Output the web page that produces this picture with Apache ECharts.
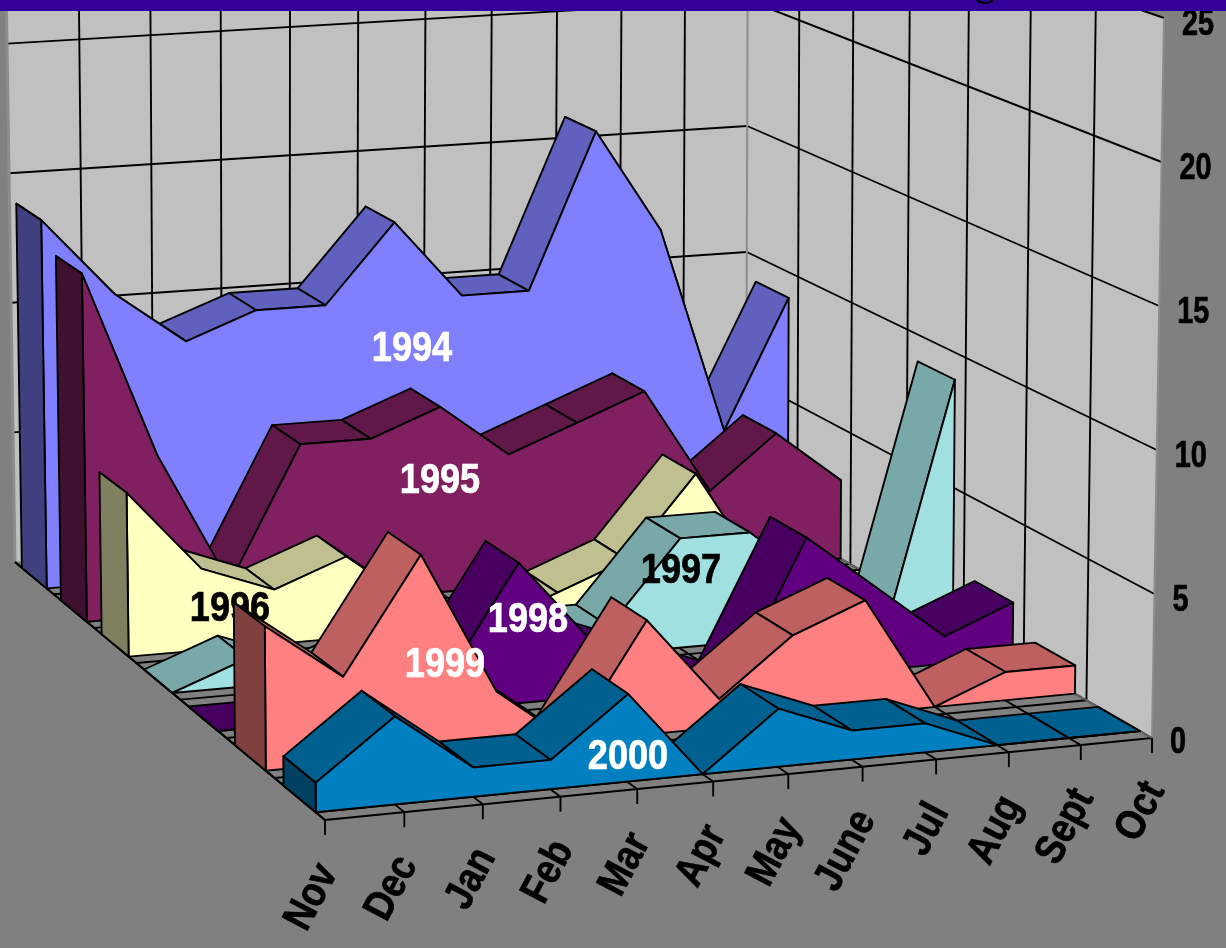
<!DOCTYPE html>
<html>
<head>
<meta charset="utf-8">
<title>Monthly values 1994-2000</title>
<style>
  html,body{margin:0;padding:0;background:#808080;}
  #chart{width:1226px;height:948px;}
</style>
<script src="https://cdn.jsdelivr.net/npm/echarts@6/dist/echarts.min.js"></script>
</head>
<body>
<div id="chart"></div>
<script>
var months = ["Nov","Dec","Jan","Feb","Mar","Apr","May","June","Jul","Aug","Sept","Oct"];
var valueTicks = [0,5,10,15,20,25];

// front to back
var years = ["2000","1999","1998","1997","1996","1995","1994"];
var v2000 = [1,3,1,1,3,0,2,1,1,0,0,0];
var v1999 = [5,3,7,2,0,4,1,3,4,0,1,1];
var v1998 = [0,0,1,1,5,2,1,0,5,3,1,2];
var v1997 = [0,1,0,1,1,1,1,4,4,2,0,9];
var v1996 = [6,3,2,3,1,0,1,2,5,1,0,0];
var v1995 = [13,6,1,6,6,7,5,6,7,3,5,3];
var v1994 = [14,11,9,10,10,13,10,10,16,12,4,9];
var yearValues = [v2000,v1999,v1998,v1997,v1996,v1995,v1994];

var faceColors  = ["#0080C0","#FF8080","#600080","#A0E0E0","#FFFFC0","#802060","#8080FF"];
var stripColors = ["#006090","#BF6060","#480060","#78A8A8","#BFBF90","#601848","#6060BF"];
var capColors   = ["#004060","#804040","#300040","#507070","#808060","#401030","#404080"];
var labelColors = ["#fff","#fff","#fff","#000","#000","#fff","#fff"];
var labelSpots  = [[628,757],[445,665],[528,620],[681,571],[230,609],[440,481],[412,349]];

// picture of the box: floor corners and the same corners at the top of the value axis
var floorQuad = [[325,820],[1152,738],[746,504],[15,562]];
var topQuad   = [[323,81],[1164,18],[748,-126],[5,-86]];
var maxValue = 25;
var gap = 0.18;
var lineW = 1.9;

function quadMap(q){
  var x0=q[0][0],y0=q[0][1],x1=q[1][0],y1=q[1][1],x2=q[2][0],y2=q[2][1],x3=q[3][0],y3=q[3][1];
  var dx1=x1-x2,dx2=x3-x2,sx=x0-x1+x2-x3;
  var dy1=y1-y2,dy2=y3-y2,sy=y0-y1+y2-y3;
  var den=dx1*dy2-dx2*dy1;
  var g=(sx*dy2-dx2*sy)/den, h=(dx1*sy-sx*dy1)/den;
  var a=x1-x0+g*x1,b=x3-x0+h*x3,d=y1-y0+g*y1,e=y3-y0+h*y3;
  return function(u,v){
    var w=g*u+h*v+1;
    return [(a*u+b*v+x0)/w,(d*u+e*v+y0)/w];
  };
}
var floorAt = quadMap(floorQuad);
var topAt = quadMap(topQuad);

// u along months, v into the depth, w is the value
function project(u,v,w){
  var p=floorAt(u,v), t=topAt(u,v), k=w/maxValue;
  return [p[0]+(t[0]-p[0])*k, p[1]+(t[1]-p[1])*k];
}
function monthU(i){ return i/(months.length-1); }

function poly(api,pts,fill,lw){
  return {type:"polygon",silent:true,
    shape:{points:pts.map(function(p){return api.coord(p);})},
    style:{fill:fill,stroke:"#000",lineWidth:lw==null?lineW:lw,lineJoin:"round"}};
}
function seg(api,a,b,color,lw){
  var p=api.coord(a),q=api.coord(b);
  return {type:"line",silent:true,shape:{x1:p[0],y1:p[1],x2:q[0],y2:q[1]},
    style:{stroke:color||"#000",lineWidth:lw||lineW}};
}
function label(api,text,at,opt){
  var p=api.coord(at), color=opt.color||"#000";
  return {type:"text",silent:true,x:p[0],y:p[1],
    scaleX:opt.scaleX||0.84,rotation:opt.rotation||0,
    style:{text:text,x:0,y:0,fill:color,stroke:color,lineWidth:0.7,
      font:"bold "+opt.size+"px 'Liberation Sans', Arial, sans-serif",
      align:opt.align||"center",verticalAlign:"middle"}};
}

function renderBox(params,api){
  var out=[],i,k;
  out.push({type:"polygon",silent:true,
    shape:{points:[project(0,1,0),project(1,1,0),project(1,1,maxValue),project(0,1,maxValue)].map(function(p){return api.coord(p);})},
    style:{fill:"#C0C0C0"}});
  out.push({type:"polygon",silent:true,
    shape:{points:[project(1,1,0),project(1,0,0),project(1,0,maxValue),project(1,1,maxValue)].map(function(p){return api.coord(p);})},
    style:{fill:"#C0C0C0"}});
  // wall grid
  for(k=0;k<valueTicks.length;k++){
    var w=valueTicks[k];
    if(w>0){
      out.push(seg(api,project(0,1,w),project(1,1,w)));
      out.push(seg(api,project(1,1,w),project(1,0,w)));
    }
  }
  for(i=1;i<months.length-1;i++){
    out.push(seg(api,project(monthU(i),1,0),project(monthU(i),1,maxValue)));
  }
  for(i=1;i<years.length;i++){
    out.push(seg(api,project(1,i/years.length,0),project(1,i/years.length,maxValue)));
  }
  // corner edges of the walls
  out.push(seg(api,project(0,1,0),project(0,1,maxValue),"#8c8c8c",3));
  out.push(seg(api,project(1,1,0),project(1,1,maxValue),"#8c8c8c",2));
  out.push(seg(api,project(1,0,0),project(1,0,maxValue),"#8c8c8c",2));
  // floor
  out.push({type:"polygon",silent:true,
    shape:{points:floorQuad.map(function(p){return api.coord(p);})},
    style:{fill:"#808080"}});
  for(i=0;i<months.length;i++){
    out.push(seg(api,project(monthU(i),0,0),project(monthU(i),1,0)));
  }
  for(i=0;i<years.length;i++){
    out.push(seg(api,project(0,i/years.length,0),project(1,i/years.length,0)));
  }
  out.push(seg(api,project(0,gap/years.length,0),project(1,gap/years.length,0)));
  out.push(seg(api,project(0,0,0),project(0,1,0),"#000",2.2));
  out.push(seg(api,project(1,0,0),project(1,1,0),"#6a6a6a",1.5));
  // axes
  for(i=0;i<months.length;i++){
    var t=project(monthU(i),0,0);
    out.push(seg(api,t,[t[0],t[1]+15]));
    out.push(label(api,months[i],[t[0]+3,t[1]+47],{size:42,rotation:Math.PI*0.345,align:"right",scaleX:0.86}));
  }
  for(k=0;k<valueTicks.length;k++){
    var e=project(1,0,valueTicks[k]);
    out.push(label(api,String(valueTicks[k]),[e[0]+18,e[1]+(k?7:5)],{size:36,align:"left",scaleX:0.8}));
  }
  return {type:"group",children:out};
}

function renderYear(params,api){
  var s=api.value(0), vals=yearValues[s], out=[], i;
  var vf=(s+gap)/years.length, vb=(s+1-gap)/years.length;
  var last=vals.length-1;
  // far end first, the face goes over the strips
  for(i=last-1;i>=0;i--){
    out.push(poly(api,[
      project(monthU(i),vf,vals[i]),project(monthU(i+1),vf,vals[i+1]),
      project(monthU(i+1),vb,vals[i+1]),project(monthU(i),vb,vals[i])],stripColors[s]));
  }
  var face=[project(0,vf,0)];
  for(i=0;i<=last;i++){ face.push(project(monthU(i),vf,vals[i])); }
  face.push(project(1,vf,0));
  out.push(poly(api,face,faceColors[s]));
  out.push(poly(api,[project(0,vf,0),project(0,vf,vals[0]),project(0,vb,vals[0]),project(0,vb,0)],capColors[s]));
  out.push(label(api,years[s],labelSpots[s],{size:42,color:labelColors[s],scaleX:0.86}));
  return {type:"group",children:out};
}

var series=[{type:"custom",name:"box",coordinateSystem:"cartesian2d",data:[[0]],renderItem:renderBox,silent:true,animation:false}];
for(var s=years.length-1;s>=0;s--){
  series.push({type:"custom",name:years[s],coordinateSystem:"cartesian2d",data:[[s]],renderItem:renderYear,silent:true,animation:false});
}

var chart=echarts.init(document.getElementById("chart"),null,{renderer:"canvas"});
chart.setOption({
  backgroundColor:"#808080",
  animation:false,
  grid:{left:0,right:0,top:0,bottom:0},
  xAxis:{type:"value",min:0,max:1226,show:false},
  yAxis:{type:"value",min:0,max:948,inverse:true,show:false},
  graphic:[
    {type:"rect",z:100,silent:true,shape:{x:0,y:0,width:1226,height:11},style:{fill:"#330099"}},
    {type:"circle",z:101,silent:true,shape:{cx:985,cy:-9,r:12},style:{fill:"none",stroke:"#000",lineWidth:2}}
  ],
  series:series
});
</script>
</body>
</html>
